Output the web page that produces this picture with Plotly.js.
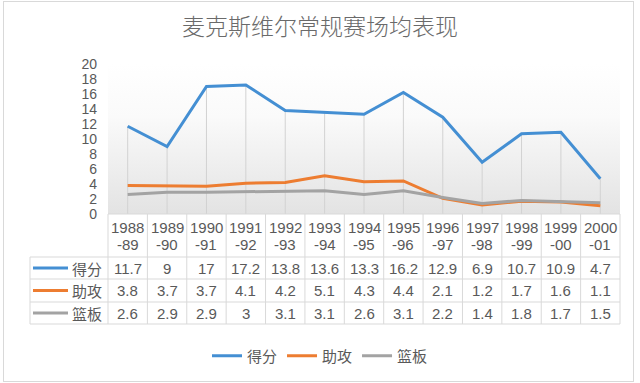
<!DOCTYPE html>
<html><head><meta charset="utf-8">
<script src="https://cdn.plot.ly/plotly-3.0.1.min.js"></script>
<style>
html,body{margin:0;padding:0;background:#fff}
#wrap{position:relative;width:640px;height:383px}
#chart{width:640px;height:383px}
#frame{position:absolute;left:3px;top:1px;width:629px;height:379px;border:1px solid #d9d9d9;pointer-events:none}
</style>
</head><body>
<div id="wrap"><div id="chart"></div><div id="frame"></div></div>
<script>
const seasons = ['1988-89','1989-90','1990-91','1991-92','1992-93','1993-94','1994-95','1995-96','1996-97','1997-98','1998-99','1999-00','2000-01'];
const seriesNames = ['得分','助攻','篮板'];
const points   = [11.7, 9, 17, 17.2, 13.8, 13.6, 13.3, 16.2, 12.9, 6.9, 10.7, 10.9, 4.7];
const assists  = [3.8, 3.7, 3.7, 4.1, 4.2, 5.1, 4.3, 4.4, 2.1, 1.2, 1.7, 1.6, 1.1];
const rebounds = [2.6, 2.9, 2.9, 3, 3.1, 3.1, 2.6, 3.1, 2.2, 1.4, 1.8, 1.7, 1.5];
const yTicks = [0,2,4,6,8,10,12,14,16,18,20];
const titleText = '麦克斯维尔常规赛场均表现';

const seriesData = [points, assists, rebounds];
const colors = ['#448fd3', '#ed7d31', '#a3a3a3'];

const L = 108, W = 512, T = 64, H = 150, PW = 640, PH = 383;
const px = x => (x - L) / W;
const py = y => (T + H - y) / H;

const NUM = 'Liberation Sans, Arial, Noto Sans CJK SC, sans-serif';
const CJK = 'Noto Sans CJK SC, Liberation Sans, sans-serif';
const txtColor = '#595959';
const lineColor = '#d9d9d9';

const traces = seriesData.map((d, i) => ({
  type: 'scatter', mode: 'lines', x: seasons, y: d, name: seriesNames[i],
  line: {color: colors[i], width: 3}, hoverinfo: 'skip'
}));

const shapes = [];
const annotations = [];

// drop lines
seasons.forEach((s, i) => {
  const m = Math.max(points[i], assists[i], rebounds[i]);
  shapes.push({type:'line', xref:'x', yref:'y', x0:s, x1:s, y0:0, y1:m, layer:'below',
    line:{color:'#d2d2d2', width:1}});
});

// table horizontal lines
shapes.push({type:'line', xref:'paper', yref:'paper', x0:px(108), x1:px(620), y0:py(214), y1:py(214), line:{color:lineColor, width:1}});
[257, 279, 302, 324].forEach(y => shapes.push({type:'line', xref:'paper', yref:'paper', x0:px(30), x1:px(620), y0:py(y), y1:py(y), line:{color:lineColor, width:1}}));
// table vertical lines
for (let k = 0; k <= seasons.length; k++) {
  const x = 108 + k * W / seasons.length;
  shapes.push({type:'line', xref:'paper', yref:'paper', x0:px(x), x1:px(x), y0:py(214), y1:py(324), line:{color:lineColor, width:1}});
}
shapes.push({type:'line', xref:'paper', yref:'paper', x0:px(30), x1:px(30), y0:py(257), y1:py(324), line:{color:lineColor, width:1}});

// header labels
seasons.forEach(s => {
  const parts = s.split('-');
  annotations.push({xref:'x', yref:'paper', x:s, y:py(227), text:parts[0], showarrow:false, yanchor:'middle',
    font:{family:NUM, size:15, color:txtColor}});
  annotations.push({xref:'x', yref:'paper', x:s, y:py(244), text:'-' + parts[1], showarrow:false, yanchor:'middle',
    font:{family:NUM, size:15, color:txtColor}});
});

// data rows
const rowCenters = [268, 290.5, 313];
seriesData.forEach((d, r) => {
  shapes.push({type:'line', xref:'paper', yref:'paper', x0:px(33), x1:px(68), y0:py(rowCenters[r]), y1:py(rowCenters[r]),
    line:{color:colors[r], width:3}});
  annotations.push({xref:'paper', yref:'paper', x:px(104), y:py(rowCenters[r]), text:seriesNames[r], showarrow:false,
    xanchor:'right', yanchor:'middle', font:{family:CJK, size:15, color:txtColor}});
  d.forEach((v, i) => {
    annotations.push({xref:'x', yref:'paper', x:seasons[i], y:py(rowCenters[r]), text:String(v), showarrow:false,
      yanchor:'middle', font:{family:NUM, size:15, color:txtColor}});
  });
});

const grad = 'data:image/svg+xml;utf8,' + encodeURIComponent(
  '<svg xmlns="http://www.w3.org/2000/svg" width="100" height="100" preserveAspectRatio="none">' +
  '<defs><linearGradient id="g" x1="0" y1="0" x2="0" y2="1">' +
  '<stop offset="0" stop-color="#ffffff"/><stop offset="0.35" stop-color="#fafafa"/><stop offset="1" stop-color="#e3e3e3"/>' +
  '</linearGradient></defs><rect width="100" height="100" fill="url(#g)"/></svg>');

const layout = {
  width: PW, height: PH,
  margin: {l: L, r: PW - L - W, t: T, b: PH - T - H},
  paper_bgcolor: '#ffffff', plot_bgcolor: 'rgba(0,0,0,0)',
  title: {text: titleText, x: 0.5, xref: 'container', xanchor: 'center', y: 1 - 27 / PH, yref: 'container', yanchor: 'middle',
    font: {family: CJK, size: 23, color: '#6a6a6a', weight: 300}},
  xaxis: {type: 'category', range: [-0.5, seasons.length - 0.5], showgrid: false, zeroline: false, showline: false,
    showticklabels: false, ticks: '', fixedrange: true},
  yaxis: {range: [0, 20], tickvals: yTicks, ticktext: yTicks.map(String), showgrid: false, zeroline: false, showline: false,
    ticks: '', tickfont: {family: NUM, size: 14, color: txtColor}, ticklabelstandoff: 10, fixedrange: true},
  showlegend: true,
  legend: {orientation: 'h', xref: 'container', x: 0.5, xanchor: 'center', yref: 'container', y: 1 - 356 / PH, yanchor: 'middle',
    font: {family: CJK, size: 15, color: txtColor}, itemwidth: 30, bgcolor: 'rgba(0,0,0,0)'},
  images: [{source: grad, xref: 'paper', yref: 'paper', x: 0, y: 1, sizex: 1, sizey: 1, sizing: 'stretch',
    xanchor: 'left', yanchor: 'top', layer: 'below'}],
  shapes: shapes,
  annotations: annotations
};

Plotly.newPlot('chart', traces, layout, {displayModeBar: false, staticPlot: true});
</script>
</body></html>
